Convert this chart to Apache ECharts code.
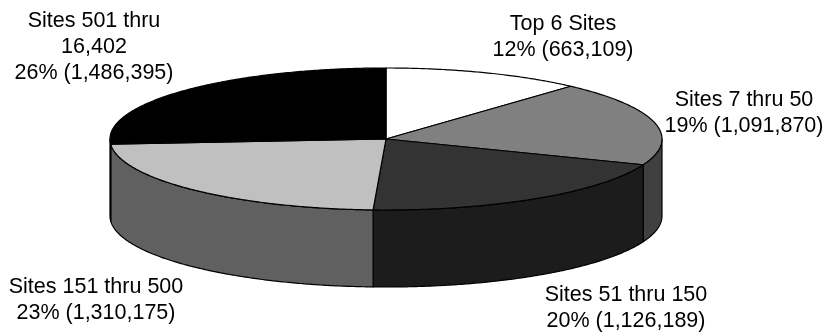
<!DOCTYPE html>
<html>
<head>
<meta charset="utf-8">
<title>Visits by site group</title>
<script src="https://cdn.jsdelivr.net/npm/echarts@6/dist/echarts.min.js"></script>
<style>
  html, body { margin: 0; padding: 0; background: #ffffff; }
  #chart { width: 828px; height: 332px; }
</style>
</head>
<body>
<div id="chart"></div>
<script>
// Slice names, in drawing order (clockwise from 12 o'clock)
const categories = [
  'Top 6 Sites',
  'Sites 7 thru 50',
  'Sites 51 thru 150',
  'Sites 151 thru 500',
  'Sites 501 thru\n16,402'
];
// Visit counts for each group
const visits = [663109, 1091870, 1126189, 1310175, 1486395];

// Fill colours: top faces and the darker outer walls
const topColors  = ['#ffffff', '#808080', '#333333', '#c0c0c0', '#000000'];
const sideColors = ['#808080', '#404040', '#1c1c1c', '#606060', '#000000'];

// Centre of each label block, in pixels
const labelAnchors = [[563, 37], [744, 113], [626, 308], [96, 300], [94, 47]];

// Tilted-disc geometry (pixels)
const disc = { cx: 386, cy: 139, rx: 276, ry: 71, depth: 77 };

const total = visits.reduce((a, b) => a + b, 0);
const startAngles = [];
visits.reduce((acc, v, i) => { startAngles[i] = acc; return acc + v; }, 0);

function angleRange(i) {
  const a = startAngles[i] / total * 360;
  const b = (startAngles[i] + visits[i]) / total * 360;
  return [a, b];
}

// Point on the rim, angle in degrees clockwise from the top
function rim(deg, dy) {
  const t = deg * Math.PI / 180;
  return [disc.cx + disc.rx * Math.sin(t), disc.cy - disc.ry * Math.cos(t) + (dy || 0)];
}

function arcPoints(a, b, dy) {
  const pts = [];
  const steps = Math.max(2, Math.ceil((b - a) / 0.5));
  for (let k = 0; k <= steps; k++) pts.push(rim(a + (b - a) * k / steps, dy));
  return pts;
}

function fmt(n) { return n.toLocaleString('en-US'); }

const lineStyle = { stroke: '#000000', lineWidth: 1.2, lineJoin: 'round' };

// Outer walls: only the front half (90..270 degrees) faces the viewer
function renderWall(params) {
  const i = params.dataIndex;
  const [a, b] = angleRange(i);
  const lo = Math.max(a, 90), hi = Math.min(b, 270);
  if (lo >= hi) return null;
  const top = arcPoints(lo, hi, 0);
  const bottom = arcPoints(lo, hi, disc.depth).reverse();
  return {
    type: 'polygon',
    z2: 1,
    shape: { points: top.concat(bottom) },
    style: Object.assign({ fill: sideColors[i] }, lineStyle)
  };
}

// Top faces plus their labels
function renderTop(params) {
  const i = params.dataIndex;
  const [a, b] = angleRange(i);
  const pts = [[disc.cx, disc.cy]].concat(arcPoints(a, b, 0));
  const pct = Math.round(visits[i] / total * 100);
  return {
    type: 'group',
    children: [
      {
        type: 'polygon',
        z2: 10,
        shape: { points: pts },
        style: Object.assign({ fill: topColors[i] }, lineStyle)
      },
      {
        type: 'text',
        z2: 20,
        x: labelAnchors[i][0],
        y: labelAnchors[i][1],
        style: {
          text: categories[i] + '\n' + pct + '% (' + fmt(visits[i]) + ')',
          align: 'center',
          verticalAlign: 'middle',
          fontFamily: '"Liberation Sans", Arial, sans-serif',
          fontSize: 21.5,
          lineHeight: 26,
          fill: '#000000'
        }
      }
    ]
  };
}

const chart = echarts.init(document.getElementById('chart'), null, { renderer: 'canvas' });
chart.setOption({
  animation: false,
  backgroundColor: '#ffffff',
  series: [
    {
      type: 'custom',
      coordinateSystem: 'none',
      z: 1,
      silent: true,
      data: visits,
      renderItem: renderWall
    },
    {
      type: 'custom',
      coordinateSystem: 'none',
      z: 2,
      silent: true,
      data: visits,
      renderItem: renderTop
    }
  ]
});
</script>
</body>
</html>
